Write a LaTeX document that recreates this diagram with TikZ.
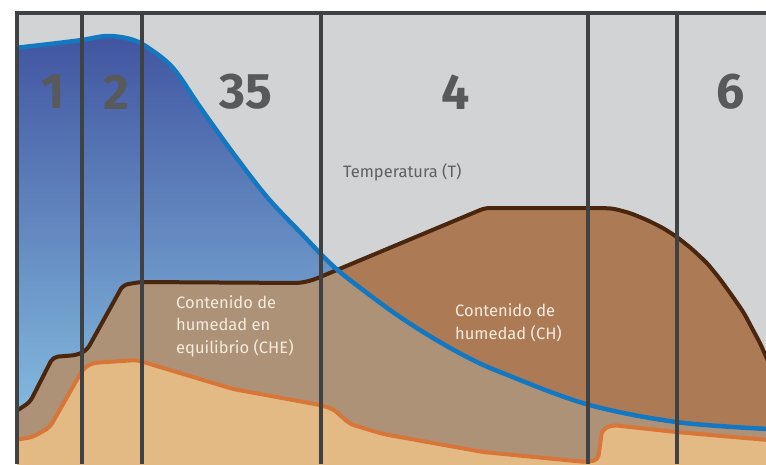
\documentclass[tikz,border=0pt]{standalone}
\usepackage{fontspec}
\setmainfont{Fira Sans}
\definecolor{bggray}{HTML}{D1D3D4}
\definecolor{bluetop}{HTML}{4155A1}
\definecolor{bluebot}{HTML}{8CC8E6}
\definecolor{blueline}{HTML}{1378C0}
\definecolor{chfill}{HTML}{AC7B55}
\definecolor{chefill}{HTML}{AD9278}
\definecolor{brownline}{HTML}{4B260F}
\definecolor{orangeline}{HTML}{D8763A}
\definecolor{tanfill}{HTML}{E4BA84}
\definecolor{vgray}{HTML}{404143}
\definecolor{numgray}{HTML}{58595B}
\definecolor{labgray}{HTML}{5F6062}
\definecolor{cream}{HTML}{F5EBDD}
\tikzset{
  vline/.style={draw=vgray, line width=4pt},
  numlabel/.style={text=numgray, font=\fontsize{50}{50}\selectfont\bfseries, inner sep=0pt},
  curvelabel/.style={font=\fontsize{16.5}{22.5}\selectfont, align=left, inner sep=0pt, anchor=west},
}
\def\bluepath{plot[smooth,tension=0.55] coordinates {(15,48) (50,44) (82,40) (107,36) (130,39) (147,47) (173,68) (200,107) (233,153) (267,197) (300,232) (333,266) (367,293) (400,317) (433,338) (467,357) (500,372) (586,404) (676,422) (768,429)}}
\def\brownpath{(15,412) -- (30,402) -- (53,357) -- (77,355) -- (87,350) -- (123,285) -- (140,282) -- (300,283) -- (313,280) -- (485,208) -- (600,208) -- (613,208.5) -- (630,213) -- (647,220) -- (663,228) -- (677,237) -- (692,249) -- (707,263) -- (720,279) -- (733,297) -- (744,313) -- (753,330) -- (760,343) -- (768,361)}
\def\orangepath{(15,440) -- (33,437) -- (50,427) -- (83,369) -- (92,363) -- (137,360) -- (150,364) -- (233,389) -- (320,405) -- (333,409) -- (350,424) -- (383,434) -- (483,452) -- (586,462) -- (598,460) -- (602,430) -- (612,425) -- (676,432) -- (768,440)}
\begin{document}
\begin{tikzpicture}[x=1pt,y=-1pt]
\useasboundingbox (0,0) rectangle (766,464);
\begin{scope}
  \clip (17,12) rectangle (766,464);
  \fill[bggray] (15,10) rectangle (768,466);
  % temperature region
  \shade[top color=bluetop, bottom color=bluebot] \bluepath -- (768,466) -- (15,466) -- cycle;
  % moisture content region
  \fill[chfill, rounded corners=5pt] \brownpath -- (768,466) -- (15,466) -- cycle;
  % equilibrium moisture content region
  \begin{scope}
    \clip \bluepath -- (768,466) -- (15,466) -- cycle;
    \fill[chefill, rounded corners=5pt] \brownpath -- (768,466) -- (15,466) -- cycle;
  \end{scope}
  % lower region
  \fill[tanfill, rounded corners=5pt] \orangepath -- (768,466) -- (15,466) -- cycle;
  % curves
  \draw[orangeline, line width=4pt, rounded corners=5pt, line join=round] \orangepath;
  \draw[brownline, line width=4pt, rounded corners=5pt, line join=round] \brownpath;
  \draw[blueline, line width=4.5pt] \bluepath;
\end{scope}
% frame and dividers
\coordinate (tl) at (15,12.5);
\coordinate (tr) at (766,12.5);
\draw[vline] (tl) -- (tr);
\foreach \x/\n in {17/a,81.5/b,141.5/c,321/d,588/e,677/f}{
  \coordinate (top\n) at (\x,10.5);
  \coordinate (bot\n) at (\x,464);
  \draw[vline] (top\n) -- (bot\n);
}
% labels
\node[numlabel] (n1) at (53,92) {1};
\node[numlabel] (n2) at (116,92) {2};
\node[numlabel] (n35) at (246,92) {35};
\node[numlabel] (n4) at (456,92) {4};
\node[numlabel] (n6) at (731,92) {6};
\node[curvelabel, text=labgray] (temp) at (343,172) {Temperatura (T)};
\node[curvelabel, text=cream] (che) at (176,326) {Contenido de\\humedad en\\equilibrio (CHE)};
\node[curvelabel, text=cream] (ch) at (455,323) {Contenido de\\humedad (CH)};
\end{tikzpicture}
\end{document}
